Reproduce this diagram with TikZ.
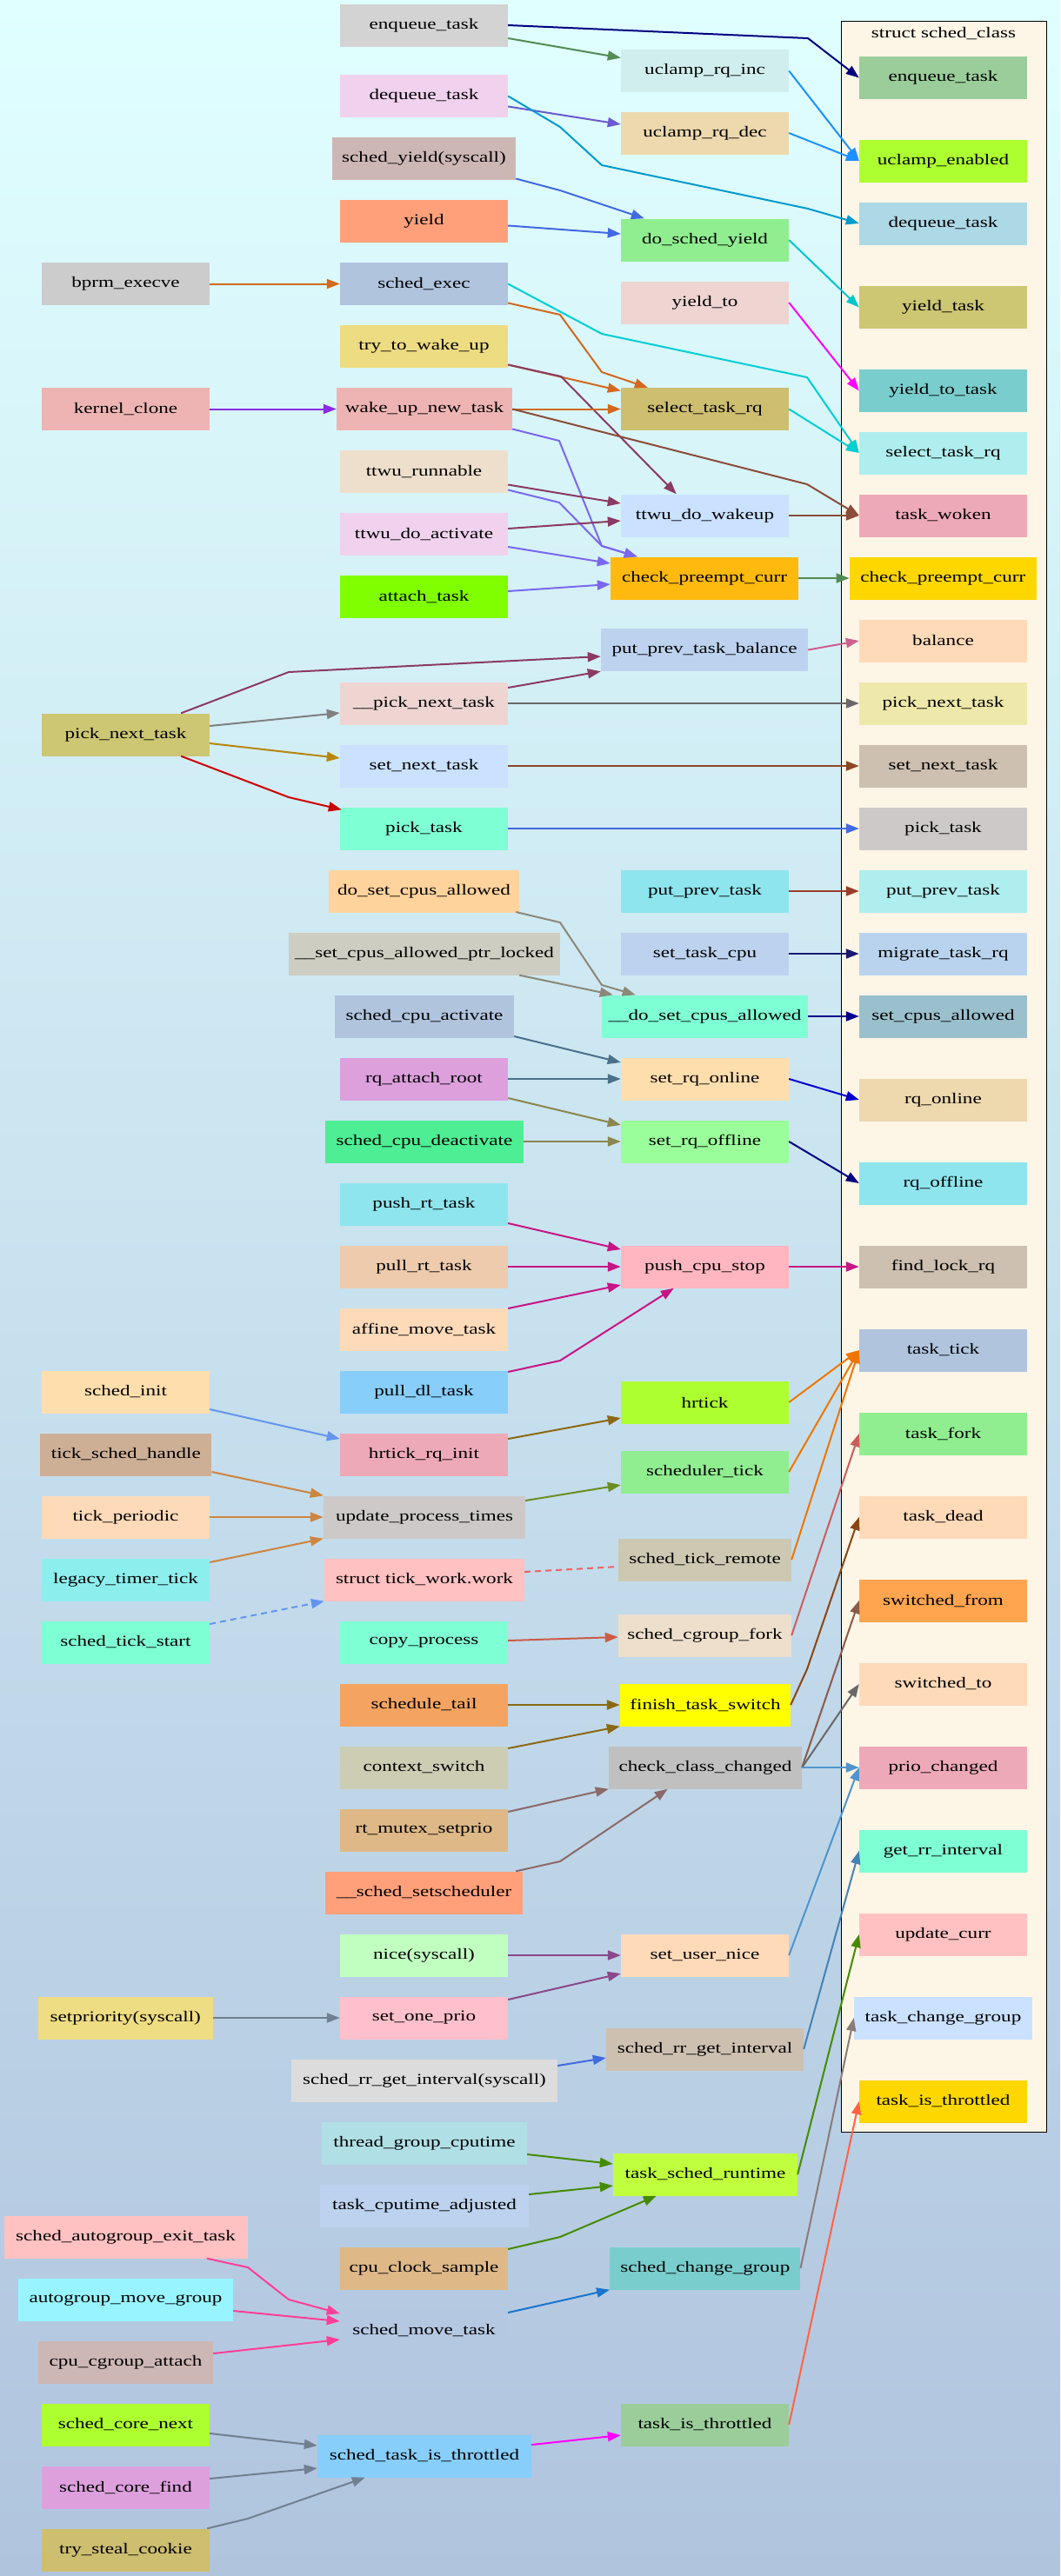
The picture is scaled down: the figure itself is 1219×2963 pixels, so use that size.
\documentclass[tikz,border=0pt]{standalone}
\usepackage{fontspec}
\setmainfont{Liberation Serif}[FakeStretch=1.32]
\usetikzlibrary{arrows.meta,calc}
\definecolor{bgtop}{HTML}{E0FFFF}
\definecolor{bgbot}{HTML}{B0C4DE}
\definecolor{clfill}{HTML}{FDF5E6}
\definecolor{Cnavy}{HTML}{000080}
\definecolor{Cpg}{HTML}{548B54}
\definecolor{Cslate}{HTML}{6A5ACD}
\definecolor{Cdsb}{HTML}{009ACD}
\definecolor{Cdodger}{HTML}{1E90FF}
\definecolor{Croyal}{HTML}{4169E1}
\definecolor{Ccyan}{HTML}{00C5CD}
\definecolor{Cchoc}{HTML}{D2691E}
\definecolor{Cturq}{HTML}{00CED1}
\definecolor{Cmag}{HTML}{FF00FF}
\definecolor{Chp}{HTML}{8B3A62}
\definecolor{Cbv}{HTML}{8A2BE2}
\definecolor{Cms}{HTML}{7B68EE}
\definecolor{Csal}{HTML}{8B4C39}
\definecolor{Chpthree}{HTML}{CD6090}
\definecolor{Cgray}{HTML}{808080}
\definecolor{Cdimgray}{HTML}{696969}
\definecolor{Cdgold}{HTML}{B8860B}
\definecolor{Csienna}{HTML}{8B4726}
\definecolor{Cred}{HTML}{CD0000}
\definecolor{Cbrown}{HTML}{9A3D2A}
\definecolor{Cmidnight}{HTML}{191970}
\definecolor{Cdblue}{HTML}{00008B}
\definecolor{Ccornsilk}{HTML}{8B8878}
\definecolor{Csky}{HTML}{4A708B}
\definecolor{Ckhaki}{HTML}{8B864E}
\definecolor{Cmblue}{HTML}{0000CD}
\definecolor{Cmvred}{HTML}{C71585}
\definecolor{Ccorn}{HTML}{6495ED}
\definecolor{Cgold}{HTML}{8B6914}
\definecolor{Cperu}{HTML}{CD853F}
\definecolor{Colive}{HTML}{6B8E23}
\definecolor{Cired}{HTML}{EE6363}
\definecolor{Ccoral}{HTML}{CD5B45}
\definecolor{Corange}{HTML}{EE7600}
\definecolor{Cindian}{HTML}{CD5C5C}
\definecolor{Csaddle}{HTML}{8B4513}
\definecolor{Csalm}{HTML}{8B5A4A}
\definecolor{Csteelthree}{HTML}{4F94CD}
\definecolor{Crosy}{HTML}{8B6969}
\definecolor{Corchid}{HTML}{8B4789}
\definecolor{Cslgray}{HTML}{708090}
\definecolor{Csteel}{HTML}{4682B4}
\definecolor{Cchart}{HTML}{458B00}
\definecolor{Crosyb}{HTML}{8B7B7B}
\definecolor{Ctomato}{HTML}{FF6347}
\definecolor{Cdodgerthree}{HTML}{1874CD}
\definecolor{Cvred}{HTML}{FF3E96}
\newcommand{\bx}[6]{\definecolor{fc#1}{HTML}{#5}\node[box,minimum width=#4pt,fill=fc#1] (#1) at (#2,#3) {#6};}
\begin{document}
\begin{tikzpicture}[x=1pt,y=-1pt,
  box/.style={rectangle,draw=none,inner xsep=2pt,inner ysep=1pt,minimum height=49pt,font=\fontsize{17.5}{20}\selectfont},
  e/.style={line width=2pt,-{Triangle[length=15pt,width=11pt]},line join=miter},
  ed/.style={line width=2pt,dash pattern=on 7pt off 5pt}]
\useasboundingbox (0,0) rectangle (1219,2963);
\shade[top color=bgtop,bottom color=bgbot] (0,0) rectangle (1219,2963);
\draw[fill=clfill,line width=1pt] (967,24) rectangle (1203,2452);
\node[font=\fontsize{17.5}{20}\selectfont] (cltitle) at (1085,39) {struct sched\_class};
% column A
\bx{aBprm}{144.5}{326.5}{193}{CCCCCC}{bprm\_execve}
\bx{aKclone}{144.5}{470.5}{193}{EEB4B4}{kernel\_clone}
\bx{aPnt}{144.5}{845}{193}{CDC673}{pick\_next\_task}
\bx{aSinit}{144.5}{1601}{193}{FFDEAD}{sched\_init}
\bx{aTsh}{144.8}{1673}{197}{CDAF95}{tick\_sched\_handle}
\bx{aTper}{144.5}{1745}{193}{FFDAB9}{tick\_periodic}
\bx{aLegacy}{144.5}{1817}{193}{8DEEEE}{legacy\_timer\_tick}
\bx{aSts}{144.5}{1889}{193}{7FFFD4}{sched\_tick\_start}
\bx{aSetprio}{144.3}{2321}{201}{EEDD82}{setpriority(syscall)}
\bx{aAexit}{144.6}{2573}{280}{FFC1C1}{sched\_autogroup\_exit\_task}
\bx{aAmove}{144.5}{2645}{247}{98F5FF}{autogroup\_move\_group}
\bx{aCgatt}{144.5}{2717}{201}{CDB7B5}{cpu\_cgroup\_attach}
\bx{aCnext}{144.5}{2789}{193}{ADFF2F}{sched\_core\_next}
\bx{aCfind}{144.5}{2861}{193}{DDA0DD}{sched\_core\_find}
\bx{aSteal}{144.5}{2933}{193}{CDBE70}{try\_steal\_cookie}
% column B
\bx{bEnq}{487.5}{29}{193}{D3D3D3}{enqueue\_task}
\bx{bDeq}{487.5}{110.5}{193}{F0D2EE}{dequeue\_task}
\bx{bSyield}{487.5}{182.5}{211}{CDB7B5}{sched\_yield(syscall)}
\bx{bYield}{487.5}{254.5}{193}{FFA07A}{yield}
\bx{bSexec}{487.5}{326.5}{193}{B0C4DE}{sched\_exec}
\bx{bTtwu}{487.5}{398.5}{193}{EEDC82}{try\_to\_wake\_up}
\bx{bWunt}{488}{470.5}{202}{EEB4B4}{wake\_up\_new\_task}
\bx{bTtwur}{487.5}{542.5}{193}{EEDFCC}{ttwu\_runnable}
\bx{bTtwuda}{487.5}{614.5}{193}{F0D2EE}{ttwu\_do\_activate}
\bx{bAttach}{487.5}{686.5}{193}{7FFF00}{attach\_task}
\bx{bPnt}{487.5}{809}{193}{EED5D2}{\_\_pick\_next\_task}
\bx{bSnt}{487.5}{881}{193}{CAE1FF}{set\_next\_task}
\bx{bPt}{487.5}{953}{193}{7FFFD4}{pick\_task}
\bx{bDsca}{487.5}{1025}{219}{FFD39B}{do\_set\_cpus\_allowed}
\bx{bScapl}{488}{1097}{312}{CDCDC1}{\_\_set\_cpus\_allowed\_ptr\_locked}
\bx{bSca}{488}{1169}{206}{B0C4DE}{sched\_cpu\_activate}
\bx{bRqar}{487.5}{1241}{193}{DDA0DD}{rq\_attach\_root}
\bx{bScd}{488}{1313}{228}{4EEE94}{sched\_cpu\_deactivate}
\bx{bPushrt}{487.5}{1385}{193}{8EE5EE}{push\_rt\_task}
\bx{bPullrt}{487.5}{1457}{193}{EECBAD}{pull\_rt\_task}
\bx{bAffine}{487.5}{1529}{193}{FFDAB9}{affine\_move\_task}
\bx{bPulldl}{487.5}{1601}{193}{87CEFA}{pull\_dl\_task}
\bx{bHrinit}{487.5}{1673}{193}{EEA9B8}{hrtick\_rq\_init}
\bx{bUpt}{488}{1745}{232}{CDC9C9}{update\_process\_times}
\bx{bTwork}{488}{1817}{230}{FFC1C1}{struct tick\_work.work}
\bx{bCopy}{487.5}{1889}{193}{7FFFD4}{copy\_process}
\bx{bStail}{487.5}{1961}{193}{F4A460}{schedule\_tail}
\bx{bCsw}{487.5}{2033}{193}{CDCDB4}{context\_switch}
\bx{bRtm}{487.5}{2105}{193}{DEB887}{rt\_mutex\_setprio}
\bx{bSetsch}{487.5}{2177}{227}{FFA07A}{\_\_sched\_setscheduler}
\bx{bNice}{487.5}{2249}{193}{C1FFC1}{nice(syscall)}
\bx{bSop}{487.5}{2321}{193}{FFC0CB}{set\_one\_prio}
\bx{bRrsys}{488}{2393}{306}{DCDCDC}{sched\_rr\_get\_interval(syscall)}
\bx{bTgc}{488}{2465}{236}{B0E0E6}{thread\_group\_cputime}
\bx{bTca}{488}{2537}{240}{BCD2EE}{task\_cputime\_adjusted}
\bx{bCpuclk}{487.5}{2609}{193}{DEB887}{cpu\_clock\_sample}
\bx{bSmove}{487.5}{2681}{193}{B5C8E2}{sched\_move\_task}
\bx{bStit}{488}{2825}{246}{87CEFA}{sched\_task\_is\_throttled}
% column C
\bx{cUinc}{810.5}{81.5}{193}{D1EEEE}{uclamp\_rq\_inc}
\bx{cUdec}{810.5}{153}{193}{EED8AE}{uclamp\_rq\_dec}
\bx{cDsy}{810.5}{276}{193}{90EE90}{do\_sched\_yield}
\bx{cYto}{810.5}{348}{193}{EED5D2}{yield\_to}
\bx{cStr}{810.5}{470.5}{193}{CDBE70}{select\_task\_rq}
\bx{cTdw}{810.5}{593}{193}{CAE1FF}{ttwu\_do\_wakeup}
\bx{cCpc}{810}{665}{216}{FFB90F}{check\_preempt\_curr}
\bx{cPptb}{810}{747.5}{238}{BCD2EE}{put\_prev\_task\_balance}
\bx{cPpt}{810.5}{1025}{193}{8EE5EE}{put\_prev\_task}
\bx{cStc}{810.5}{1097}{193}{BCD2EE}{set\_task\_cpu}
\bx{cDsca}{810.5}{1169}{237}{7FFFD4}{\_\_do\_set\_cpus\_allowed}
\bx{cSon}{810.5}{1241}{193}{FFDEAD}{set\_rq\_online}
\bx{cSoff}{810.5}{1313}{193}{9AFF9A}{set\_rq\_offline}
\bx{cPcs}{810.5}{1457}{193}{FFB6C1}{push\_cpu\_stop}
\bx{cHrt}{810.5}{1613}{193}{ADFF2F}{hrtick}
\bx{cStick}{810.5}{1693}{193}{90EE90}{scheduler\_tick}
\bx{cStrem}{810.5}{1794}{199}{CDC8B1}{sched\_tick\_remote}
\bx{cScf}{810.5}{1881}{199}{EEDFCC}{sched\_cgroup\_fork}
\bx{cFts}{811}{1961}{196}{FFFF00}{finish\_task\_switch}
\bx{cCcc}{811}{2033}{222}{C0C0C0}{check\_class\_changed}
\bx{cSun}{810.5}{2249}{193}{FFDAB9}{set\_user\_nice}
\bx{cSrr}{810.5}{2357}{227}{CDC0B0}{sched\_rr\_get\_interval}
\bx{cTsr}{811}{2501}{212}{C0FF3E}{task\_sched\_runtime}
\bx{cScg}{810.8}{2609}{219}{79CDCD}{sched\_change\_group}
\bx{cTit}{810.5}{2789}{193}{9BCD9B}{task\_is\_throttled}
% column D
\bx{dEnq}{1084.5}{89.5}{193}{9BCD9B}{enqueue\_task}
\bx{dUen}{1084.5}{185}{193}{ADFF2F}{uclamp\_enabled}
\bx{dDeq}{1084.5}{257}{193}{ADD8E6}{dequeue\_task}
\bx{dYt}{1084.5}{353.5}{193}{CDC673}{yield\_task}
\bx{dYtt}{1084.5}{449.5}{193}{79CDCD}{yield\_to\_task}
\bx{dStr}{1084.5}{521}{193}{AEEEEE}{select\_task\_rq}
\bx{dTw}{1084.5}{593}{193}{EEA9B8}{task\_woken}
\bx{dCpc}{1084.3}{665}{215}{FFD700}{check\_preempt\_curr}
\bx{dBal}{1084.5}{737}{193}{FFDAB9}{balance}
\bx{dPnt}{1084.5}{809}{193}{EEE8AA}{pick\_next\_task}
\bx{dSnt}{1084.5}{881}{193}{CDC0B0}{set\_next\_task}
\bx{dPt}{1084.5}{953}{193}{CDC9C9}{pick\_task}
\bx{dPpt}{1084.5}{1025}{193}{AEEEEE}{put\_prev\_task}
\bx{dMtr}{1084.5}{1097}{193}{B9D3EE}{migrate\_task\_rq}
\bx{dSca}{1084.5}{1169}{193}{9AC0CD}{set\_cpus\_allowed}
\bx{dRon}{1084.5}{1265}{193}{EED8AE}{rq\_online}
\bx{dRoff}{1084.5}{1361}{193}{8EE5EE}{rq\_offline}
\bx{dFlr}{1084.5}{1457}{193}{CDC0B0}{find\_lock\_rq}
\bx{dTt}{1084.5}{1553}{193}{B0C4DE}{task\_tick}
\bx{dTf}{1084.5}{1649}{193}{90EE90}{task\_fork}
\bx{dTd}{1084.5}{1745}{193}{FFDAB9}{task\_dead}
\bx{dSf}{1084.5}{1841}{193}{FFA54F}{switched\_from}
\bx{dSt}{1084.5}{1937}{193}{FFDAB9}{switched\_to}
\bx{dPc}{1084.5}{2033}{193}{EEA9B8}{prio\_changed}
\bx{dGri}{1084.5}{2129}{193}{7FFFD4}{get\_rr\_interval}
\bx{dUc}{1084.5}{2225}{193}{FFC1C1}{update\_curr}
\bx{dTcg}{1084.5}{2321}{205}{CAE1FF}{task\_change\_group}
\bx{dTit}{1084.5}{2417}{193}{FFD700}{task\_is\_throttled}
% edges
\draw[e,Cnavy] (bEnq.east) -- (929,44) -- (dEnq.west);
\draw[e,Cpg] ($(bEnq.east)+(0,15)$) -- ($(cUinc.west)+(0,-15)$);
\draw[e,Cslate] ($(bDeq.east)+(0,12)$) -- ($(cUdec.west)+(0,-10)$);
\draw[e,Cdsb] (bDeq.east) -- (644,146) -- (692,190) -- (929,240) -- (dDeq.west);
\draw[e,Cdodger] (cUinc.east) -- (dUen.west);
\draw[e,Cdodger] (cUdec.east) -- (dUen.west);
\draw[e,Croyal] ($(bSyield.east)+(0,23)$) -- (644,219) -- ($(cDsy.north west)+(27,0)$);
\draw[e,Croyal] ($(bYield.east)+(0,5)$) -- ($(cDsy.west)+(0,-7)$);
\draw[e,Ccyan] (cDsy.east) -- (dYt.west);
\draw[e,Cchoc] (aBprm.east) -- (bSexec.west);
\draw[e,Cchoc] ($(bSexec.east)+(0,22)$) -- (644,362) -- (692,428) -- ($(cStr.north west)+(31,0)$);
\draw[e,Cturq] (bSexec.east) -- (692,384) -- (928,434) -- (dStr.west);
\draw[e,Cmag] (cYto.east) -- (dYtt.west);
\draw[e,Cchoc] ($(bTtwu.east)+(0,21)$) -- ($(cStr.west)+(0,-21)$);
\draw[e,Chp] ($(bTtwu.east)+(0,21)$) -- (645,433) -- ($(cTdw.north west)+(64,0)$);
\draw[e,Cchoc] (bWunt.east) -- (cStr.west);
\draw[e,Cbv] (aKclone.east) -- (bWunt.west);
\draw[e,Cturq] (cStr.east) -- (dStr.west);
\draw[e,Cms] ($(bWunt.east)+(0,23)$) -- (643,507) -- (692,628) -- ($(cCpc.north west)+(31,0)$);
\draw[e,Csal] (bWunt.east) -- (928,557) -- (dTw.west);
\draw[e,Chp] ($(bTtwur.east)+(0,15)$) -- ($(cTdw.west)+(0,-14)$);
\draw[e,Cms] ($(bTtwur.east)+(0,21)$) -- (643,578) -- (692,628) -- ($(cCpc.north west)+(31,0)$);
\draw[e,Chp] ($(bTtwuda.east)+(0,-6.5)$) -- ($(cTdw.west)+(0,6)$);
\draw[e,Cms] ($(bTtwuda.east)+(0,14.5)$) -- ($(cCpc.west)+(0,-17)$);
\draw[e,Cms] ($(bAttach.east)+(0,-6.5)$) -- ($(cCpc.west)+(0,7)$);
\draw[e,Csal] (cTdw.east) -- (dTw.west);
\draw[e,Cpg] (cCpc.east) -- (dCpc.west);
\draw[e,Chpthree] (cPptb.east) -- (dBal.west);
\draw[e,Chp] ($(aPnt.north east)+(-33,0)$) -- (332,773) -- ($(cPptb.west)+(0,7.5)$);
\draw[e,Chp] ($(bPnt.east)+(0,-18)$) -- (cPptb.south west);
\draw[e,Cgray] ($(aPnt.east)+(0,-10)$) -- ($(bPnt.west)+(0,11)$);
\draw[e,Cdimgray] (bPnt.east) -- (dPnt.west);
\draw[e,Cdgold] ($(aPnt.east)+(0,10)$) -- ($(bSnt.west)+(0,-9)$);
\draw[e,Csienna] (bSnt.east) -- (dSnt.west);
\draw[e,Cred] ($(aPnt.south east)+(-33,0)$) -- (332,917) -- ($(bPt.north west)+(2,3)$);
\draw[e,Croyal] (bPt.east) -- (dPt.west);
\draw[e,Cbrown] (cPpt.east) -- (dPpt.west);
\draw[e,Cmidnight] (cStc.east) -- (dMtr.west);
\draw[e,Cdblue] (cDsca.east) -- (dSca.west);
\draw[e,Ccornsilk] ($(bDsca.east)+(-4,24)$) -- (644,1061) -- (692,1133) -- ($(cDsca.north west)+(39,0)$);
\draw[e,Ccornsilk] ($(bScapl.south east)+(-47,0)$) -- ($(cDsca.north west)+(13,0)$);
\draw[e,Csky] ($(bSca.east)+(0,23)$) -- ($(cSon.west)+(0,-19)$);
\draw[e,Csky] (bRqar.east) -- (cSon.west);
\draw[e,Ckhaki] ($(bRqar.east)+(0,22)$) -- ($(cSoff.west)+(0,-19)$);
\draw[e,Ckhaki] (bScd.east) -- (cSoff.west);
\draw[e,Cmblue] (cSon.east) -- (dRon.west);
\draw[e,Cnavy] (cSoff.east) -- (dRoff.west);
\draw[e,Cmvred] ($(bPushrt.east)+(0,22)$) -- ($(cPcs.west)+(0,-20)$);
\draw[e,Cmvred] (bPullrt.east) -- (cPcs.west);
\draw[e,Cmvred] ($(bAffine.east)+(0,-24)$) -- ($(cPcs.west)+(0,21)$);
\draw[e,Cmvred] ($(bPulldl.east)+(0,-23)$) -- (644,1565) -- ($(cPcs.south west)+(61,0)$);
\draw[e,Cmvred] (cPcs.east) -- (dFlr.west);
\draw[e,Ccorn] ($(aSinit.east)+(0,20)$) -- ($(bHrinit.west)+(0,-18)$);
\draw[e,Cgold] ($(bHrinit.east)+(0,-18)$) -- ($(cHrt.west)+(0,18)$);
\draw[e,Cperu] ($(aTsh.east)+(0,20)$) -- (bUpt.north west);
\draw[e,Cperu] (aTper.east) -- (bUpt.west);
\draw[e,Cperu] ($(aLegacy.east)+(0,-20)$) -- (bUpt.south west);
\draw[e,Colive] ($(bUpt.east)+(0,-19)$) -- ($(cStick.west)+(0,15)$);
\draw[e,Ccorn,dash pattern=on 7pt off 5pt] ($(aSts.east)+(0,-21)$) -- (bTwork.south west);
\draw[ed,Cired] ($(bTwork.east)+(0,-9)$) -- ($(cStrem.west)+(0,8)$);
\draw[e,Ccoral] ($(bCopy.east)+(0,-2)$) -- ($(cScf.west)+(0,2)$);
\draw[e,Cgold] (bStail.east) -- (cFts.west);
\draw[e,Cgold] ($(bCsw.east)+(0,-22)$) -- (cFts.south west);
\draw[e,Corange] (cHrt.east) -- (dTt.west);
\draw[e,Corange] (cStick.east) -- (dTt.west);
\draw[e,Corange] (cStrem.east) -- (dTt.west);
\draw[e,Cindian] (cScf.east) -- (dTf.west);
\draw[e,Csaddle] (cFts.east) -- (928,1920) -- (dTd.west);
\draw[e,Csalm] (cCcc.east) -- (dSf.west);
\draw[e,Cdimgray] (cCcc.east) -- (dSt.west);
\draw[e,Csteelthree] (cCcc.east) -- (dPc.west);
\draw[e,Crosy] ($(bRtm.east)+(0,-21)$) -- (cCcc.south west);
\draw[e,Crosy] ($(bSetsch.north east)+(-8,0)$) -- (644,2141) -- ($(cCcc.south west)+(68,0)$);
\draw[e,Corchid] (bNice.east) -- (cSun.west);
\draw[e,Corchid] ($(bSop.east)+(0,-21)$) -- ($(cSun.west)+(0,21)$);
\draw[e,Cslgray] (aSetprio.east) -- (bSop.west);
\draw[e,Croyal] ($(bRrsys.east)+(0,-17)$) -- ($(cSrr.west)+(0,10)$);
\draw[e,Csteelthree] (cSun.east) -- (dPc.west);
\draw[e,Csteel] (cSrr.east) -- (dGri.west);
\draw[e,Cchart] (cTsr.east) -- (dUc.west);
\draw[e,Crosyb] (cScg.east) -- (dTcg.west);
\draw[e,Ctomato] (cTit.east) -- (dTit.west);
\draw[e,Cchart] ($(bTgc.east)+(0,13)$) -- ($(cTsr.west)+(0,-12)$);
\draw[e,Cchart] ($(bTca.east)+(0,-13)$) -- ($(cTsr.west)+(0,13)$);
\draw[e,Cchart] ($(bCpuclk.east)+(0,-22)$) -- (644,2573) -- ($(cTsr.south west)+(50,0)$);
\draw[e,Cdodgerthree] ($(bSmove.east)+(0,-21)$) -- (cScg.south west);
\draw[e,Cvred] ($(aAexit.south east)+(-47,0)$) -- (285,2608) -- (332,2645) -- ($(bSmove.west)+(0,-20)$);
\draw[e,Cvred] ($(aAmove.east)+(0,13)$) -- ($(bSmove.west)+(0,-11)$);
\draw[e,Cvred] ($(aCgatt.east)+(0,-10)$) -- ($(bSmove.west)+(0,10)$);
\draw[e,Cslgray] ($(aCnext.east)+(0,10)$) -- ($(bStit.west)+(0,-12)$);
\draw[e,Cslgray] ($(aCfind.east)+(0,-10)$) -- ($(bStit.west)+(0,14)$);
\draw[e,Cslgray] ($(aSteal.north east)+(-3,0)$) -- (285,2897) -- ($(bStit.south west)+(55,0)$);
\draw[e,Cmag] ($(bStit.east)+(0,-13)$) -- ($(cTit.west)+(0,12)$);
\end{tikzpicture}
\end{document}
